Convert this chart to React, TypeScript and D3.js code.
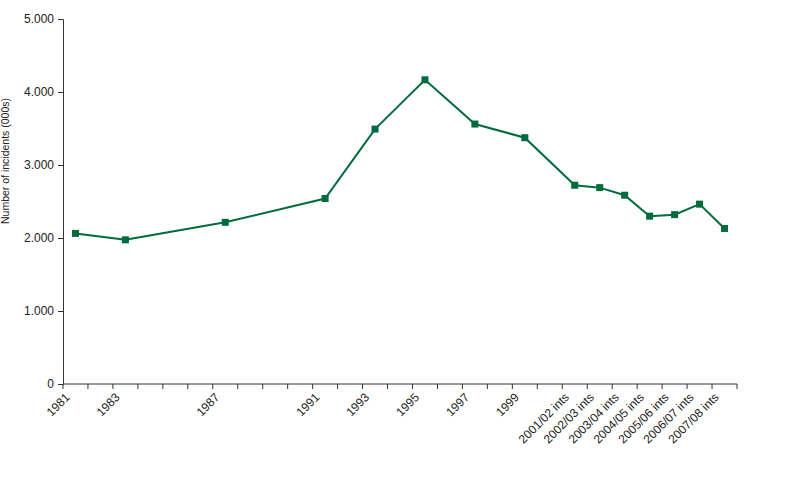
import React, { useRef, useEffect } from 'react';
import * as d3 from 'd3';

// category slots along the x axis (blank = year with no survey)
const categories: string[] = [
  '1981', '', '1983', '', '', '', '1987', '', '', '', '1991', '', '1993', '',
  '1995', '', '1997', '', '1999', '', '2001/02 ints', '2002/03 ints',
  '2003/04 ints', '2004/05 ints', '2005/06 ints', '2006/07 ints', '2007/08 ints',
];

// incidents (000s), null where no survey
const incidents: (number | null)[] = [
  2063, null, 1975, null, null, null, 2215, null, null, null, 2541, null, 3492, null,
  4167, null, 3561, null, 3374, null, 2723, 2690, 2586, 2299, 2320, 2464, 2131,
];

const yTicks = [0, 1000, 2000, 3000, 4000, 5000];

const LINE = '#006B3F';
const FONT = 'Liberation Sans, Arial, sans-serif';

export default function App() {
  const ref = useRef<SVGSVGElement | null>(null);

  useEffect(() => {
    const svg = d3.select(ref.current);
    svg.selectAll('*').remove();

    const margin = { top: 19, right: 53, bottom: 105, left: 63 };
    const W = 790, H = 490;
    const width = W - margin.left - margin.right;
    const height = H - margin.top - margin.bottom - 1;

    const idx = categories.map((_, i) => i);
    const x = d3.scaleBand<number>().domain(idx).range([0, width]).padding(0);
    const y = d3.scaleLinear().domain([0, 5000]).range([height, 0]);

    const g = svg.append('g').attr('transform', `translate(${margin.left},${margin.top})`);

    // Y axis
    const yAxis = g.append('g')
      .call(d3.axisLeft(y).tickValues(yTicks).tickSize(5).tickPadding(4)
        .tickFormat(d => d3.format(',')(+d).replace(/,/g, '.')));
    yAxis.select('.domain').attr('stroke', '#333');
    yAxis.selectAll('line').attr('stroke', '#333');
    yAxis.selectAll('text').attr('font-size', 12).attr('fill', '#222')
      .attr('font-family', FONT);

    // X axis, ticks on band edges
    const xa = g.append('g').attr('transform', `translate(0,${height})`);
    xa.append('line').attr('x1', 0).attr('x2', width).attr('stroke', '#333');
    const edges = idx.map(i => x(i)!).concat([width]);
    xa.selectAll('line.tick').data(edges).join('line')
      .attr('class', 'tick')
      .attr('x1', d => d).attr('x2', d => d)
      .attr('y1', 0).attr('y2', 5)
      .attr('stroke', '#333');
    xa.selectAll('text').data(categories).join('text')
      .attr('transform', (_, i) => `translate(${x(i)! + x.bandwidth() / 2 - 5},${14}) rotate(-45)`)
      .attr('text-anchor', 'end')
      .attr('font-size', 12)
      .attr('fill', '#222')
      .attr('font-family', FONT)
      .text(d => d);

    // Y label
    svg.append('text')
      .attr('transform', `translate(9,${margin.top + 142}) rotate(-90)`)
      .attr('text-anchor', 'middle')
      .attr('font-size', 10.5)
      .attr('fill', '#222')
      .attr('font-family', FONT)
      .text('Number of incidents (000s)');

    const pts = incidents
      .map((v, i) => ({ i, v }))
      .filter(d => d.v !== null) as { i: number; v: number }[];

    const line = d3.line<{ i: number; v: number }>()
      .x(d => x(d.i)! + x.bandwidth() / 2)
      .y(d => y(d.v));

    g.append('path')
      .datum(pts)
      .attr('d', line)
      .attr('fill', 'none')
      .attr('stroke', LINE)
      .attr('stroke-width', 2);

    g.selectAll('rect.m').data(pts).join('rect')
      .attr('class', 'm')
      .attr('x', d => x(d.i)! + x.bandwidth() / 2 - 3.5)
      .attr('y', d => y(d.v) - 3.5)
      .attr('width', 7)
      .attr('height', 7)
      .attr('fill', LINE);
  }, []);

  return (
    <svg ref={ref} width={790} height={490}
      style={{ position: 'absolute', left: 0, top: 0, background: '#fff' }} />
  );
}
